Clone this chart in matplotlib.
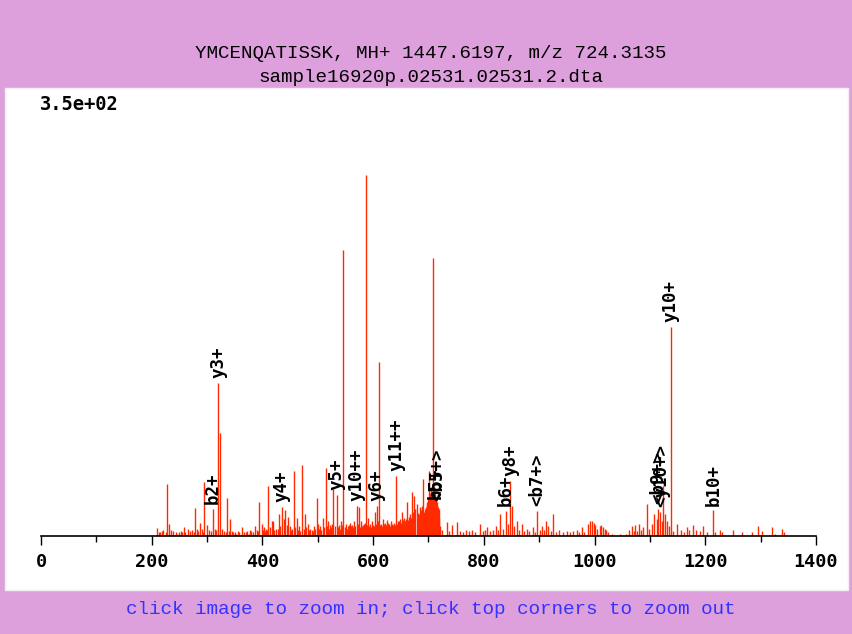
import matplotlib
matplotlib.use("Agg")
import matplotlib.pyplot as plt
from matplotlib.patches import Rectangle
from matplotlib.ticker import MultipleLocator

# Peak list: m/z and intensity

mz = [
    210.1, 215.0, 218.6, 227.1, 231.2, 234.8, 238.5, 243.9, 249.3, 252.9,
    258.3, 265.0, 269.2, 272.8, 278.2, 281.8, 287.2, 290.8, 295.0, 299.9,
    303.5, 310.2, 314.3, 320.6, 323.4, 327.0, 330.6, 336.6, 341.4, 345.0,
    350.5, 355.9, 362.6, 366.7, 372.1, 377.6, 383.0, 386.6, 390.2, 394.4,
    398.7, 402.9, 406.5, 410.6, 413.7, 416.8, 419.1, 424.5, 430.5, 434.8,
    438.1, 440.8, 446.2, 449.8, 453.4, 457.0, 461.9, 466.1, 472.0, 476.9,
    482.3, 486.0, 489.6, 493.2, 498.0, 500.4, 504.0, 509.4, 514.8, 518.5,
    522.1, 528.0, 534.2, 538.4, 542.0, 546.1, 551.0, 554.6, 558.2, 561.8,
    565.4, 570.3, 575.0, 578.1, 581.7, 587.1, 591.3, 594.3, 597.9, 603.4,
    606.4, 611.1, 614.2, 617.8, 621.4, 625.0, 628.7, 632.3, 635.9, 641.3,
    644.9, 648.5, 651.6, 655.8, 660.6, 664.8, 669.7, 674.4, 678.7, 682.0,
    684.7, 687.7, 690.6, 693.7, 696.8, 699.1, 701.5, 704.5, 707.6, 710.0,
    711.8, 713.6, 715.9, 718.1, 723.9, 733.0, 737.1, 743.0, 751.0, 757.0,
    762.3, 767.8, 773.2, 778.6, 784.0, 793.1, 798.5, 802.1, 806.3, 811.1,
    816.5, 822.0, 825.6, 829.2, 834.6, 840.0, 843.6, 847.2, 850.3, 854.5,
    859.3, 863.5, 868.4, 872.5, 877.4, 881.6, 888.2, 892.4, 896.6, 900.6,
    904.5, 907.8, 911.8, 916.5, 920.4, 925.5, 930.3, 936.3, 943.0, 949.7,
    955.6, 961.1, 967.7, 971.9, 976.8, 980.9, 988.2, 991.8, 994.8, 998.1,
    1000.8, 1004.4, 1009.8, 1012.5, 1015.3, 1018.0, 1020.7, 1024.3, 1031.5, 1046.0,
    1056.8, 1062.8, 1067.1, 1070.4, 1073.1, 1076.7, 1080.8, 1083.9, 1088.1, 1094.2,
    1098.4, 1103.2, 1107.9, 1112.3, 1115.2, 1118.2, 1121.3, 1124.2, 1127.2, 1130.3,
    1133.6, 1137.5, 1141.7, 1149.5, 1155.6, 1161.6, 1167.6, 1171.2, 1178.4, 1183.3,
    1190.5, 1196.5, 1203.1, 1214.5, 1217.6, 1226.6, 1230.2, 1250.6, 1265.8, 1283.9,
    1295.8, 1301.9, 1320.0, 1326.0, 1338.1, 1342.2,
]

intensity = [
    6.5, 3, 4, 42.6, 10, 5, 4, 3, 3, 4,
    7, 6, 4, 5, 23, 6, 11, 6, 44, 9,
    5, 22, 6, 126, 85, 6, 4, 31, 14, 4,
    3, 4, 7, 3, 4, 5, 3, 8, 5, 28,
    10, 7, 6, 41, 7, 12, 12.5, 6, 18, 24,
    14, 21, 15.6, 8, 6, 53.5, 15, 8, 58, 18,
    10, 6, 5, 8, 31, 10, 8, 15, 56, 12,
    9, 39, 34, 9, 12, 235, 10, 8, 11, 9,
    12, 25, 24, 12, 9, 297, 15, 10, 12, 20,
    25, 143, 10, 14, 11, 13, 10, 12, 9, 49,
    12, 14, 20, 15, 28, 16, 36, 33, 26, 18,
    24, 20, 47, 22, 28, 30, 53, 40, 228, 41,
    35, 26, 25, 22, 5, 11.5, 4, 9, 11.5, 4,
    3, 5, 4, 5, 3, 10, 4, 5, 7, 4,
    5, 8, 5, 18, 6, 20.7, 10, 45, 25, 8,
    12, 5, 10, 4, 6, 4, 7, 3, 20.7, 5,
    8, 5, 12.5, 8, 4, 18, 3, 5, 3, 4,
    3, 4, 5, 3, 7, 3, 10, 12.5, 12, 11,
    9, 6, 8, 9, 7, 6, 5, 3, 2, 1.5,
    2, 5, 8, 4, 9, 4, 10, 5, 7, 26,
    6, 10, 18, 14, 22, 20, 12, 41, 18, 12,
    8, 172, 4, 10, 5, 3, 7, 5, 9, 5,
    4, 8, 3, 21, 3, 5, 3, 5, 3, 3,
    8, 4, 7, 2, 6, 3,
]

# Low-level peaks filling the crowded 210-720 range

noise_mz = [
    212.5, 221.0, 225.0, 246.0, 255.5, 261.0, 275.5, 284.5, 293.0, 306.5,
    317.0, 333.5, 339.0, 347.5, 353.0, 358.5, 369.5, 375.0, 380.0, 392.5,
    400.8, 404.7, 408.5, 421.8, 427.5, 432.6, 443.5, 451.5, 459.5, 464.0,
    468.5, 474.5, 479.5, 484.0, 491.5, 495.5, 502.2, 506.7, 512.0, 516.7,
    520.3, 524.5, 526.0, 531.0, 536.4, 540.2, 544.0, 548.5, 552.8, 556.4,
    560.0, 563.6, 567.5, 572.5, 576.6, 580.0, 583.5, 585.3, 589.2, 592.8,
    596.0, 600.0, 601.8, 605.0, 608.7, 612.7, 616.0, 619.6, 623.2, 626.8,
    630.5, 634.0, 637.7, 639.5, 643.1, 646.7, 650.0, 653.6, 657.6, 659.0,
    662.6, 666.6, 668.0, 671.2, 672.8, 676.4, 680.3, 683.3, 686.2, 689.1,
    692.2, 695.2, 698.0, 700.3, 703.0, 706.0, 709.0, 712.7, 714.8, 717.0,
    719.3, 720.5,
]

noise_int = [
    3, 5, 3, 2, 3, 3, 3, 4, 3, 4,
    5, 3, 4, 3, 2, 3, 3, 2, 4, 4,
    5, 4, 5, 5, 6, 8, 9, 5, 7, 5,
    4, 6, 7, 5, 4, 6, 6, 5, 7, 8,
    6, 7, 10, 8, 7, 6, 9, 7, 6, 9,
    8, 7, 8, 10, 7, 8, 10, 11, 9, 8,
    7, 9, 8, 10, 12, 9, 8, 10, 9, 11,
    8, 10, 11, 9, 10, 12, 11, 13, 12, 14,
    13, 18, 15, 17, 20, 22, 19, 16, 21, 25,
    20, 24, 26, 22, 35, 30, 38, 30, 28, 24,
    15, 8,
]

# Ion labels

label_text = ["b2+", "y3+", "y4+", "y5+", "y10++", "y6+", "y11++",
              "b5+", "<b5+>", "b6+", "y8+", "<b7+>", "<b9+>", "<y10+>",
              "y10+", "b10+"]
label_mz = [310.2, 320.6, 434.8, 534.2, 570.3, 606.4, 641.3,
            713.6, 715.9, 840.0, 847.2, 896.6, 1115.2, 1121.3,
            1137.5, 1214.5]
label_int = [22, 126, 24, 34, 25, 25, 49,
             26, 25, 20.7, 45, 20.7, 22, 20,
             172, 21]

title1 = "YMCENQATISSK, MH+ 1447.6197, m/z 724.3135"
title2 = "sample16920p.02531.02531.2.dta"
ymax_text = "3.5e+02"
footer = "click image to zoom in; click top corners to zoom out"

W, H = 853, 634
RED = "#ff2a00"

fig = plt.figure(figsize=(W / 100, H / 100), dpi=100, facecolor="#dda0dd")

# white panel behind the plot
fig.patches.append(Rectangle((5 / W, 44 / H), 843 / W, 502 / H,
                             transform=fig.transFigure, facecolor="white",
                             edgecolor="#f4eef4", linewidth=1, zorder=-5))

ax = fig.add_axes([41 / W, (H - 536) / H, 775 / W, 426 / H])
ax.set_zorder(2)
ax.patch.set_alpha(0)

ax.vlines(noise_mz, 0, noise_int, color=RED, linewidth=1.0)
ax.vlines(mz, 0, intensity, color=RED, linewidth=1.0)

for t, x, y in zip(label_text, label_mz, label_int):
    ax.annotate(t, (x, y), xytext=(0, 3.5), textcoords="offset points",
                rotation=90, ha="center", va="bottom",
                fontsize=12.5, fontweight="bold", family="DejaVu Sans Mono")

ax.set_xlim(0, 1400)
ax.set_ylim(0, 350)

for s in ["top", "left", "right"]:
    ax.spines[s].set_visible(False)
ax.spines["bottom"].set_linewidth(1.2)
ax.set_yticks([])

ax.xaxis.set_major_locator(MultipleLocator(200))
ax.xaxis.set_minor_locator(MultipleLocator(100))
ax.tick_params(axis="x", which="major", length=6.5, width=1, pad=6)
ax.tick_params(axis="x", which="minor", length=4, width=1)
for lab in ax.get_xticklabels():
    lab.set_fontfamily("DejaVu Sans Mono")
    lab.set_fontweight("bold")
    lab.set_fontsize(13.3)

fig.text(431 / W, 1 - 53 / H, title1, ha="center", va="center",
         fontsize=13.8, family="Liberation Mono")
fig.text(431 / W, 1 - 78 / H, title2, ha="center", va="center",
         fontsize=13.8, family="Liberation Mono")
fig.text(40 / W, 1 - 105 / H, ymax_text, ha="left", va="center",
         fontsize=13.5, fontweight="bold", family="DejaVu Sans Mono")
fig.text(431 / W, 1 - 610 / H, footer, ha="center", va="center",
         fontsize=13.9, color="#3333ff", family="Liberation Mono")

fig.savefig("out.png", dpi=100, facecolor=fig.get_facecolor())
